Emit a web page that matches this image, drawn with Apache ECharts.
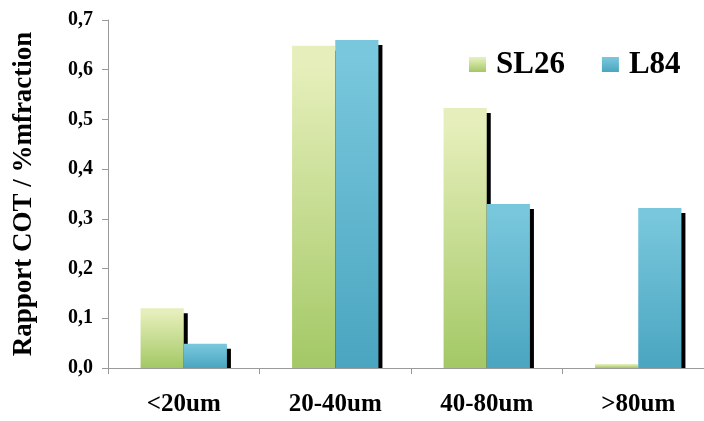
<!DOCTYPE html>
<html><head><meta charset="utf-8">
<script src="https://cdn.jsdelivr.net/npm/echarts@6/dist/echarts.min.js"></script>
<style>html,body{margin:0;padding:0;background:#fff;overflow:hidden}#c{width:716px;height:421px}</style>
</head><body><div id="c"></div>
<script>
var categories = ['<20um', '20-40um', '40-80um', '>80um'];
var sl26 = [0.12, 0.648, 0.523, 0.008];
var l84 = [0.049, 0.66, 0.33, 0.322];
var yTicks = [0, 0.1, 0.2, 0.3, 0.4, 0.5, 0.6, 0.7];

var serif = '"Liberation Serif", "DejaVu Serif", serif';
function grad(top, bottom) {
  return new echarts.graphic.LinearGradient(0, 0, 0, 1, [
    {offset: 0, color: top}, {offset: 0.06, color: top}, {offset: 1, color: bottom}
  ]);
}
var chart = echarts.init(document.getElementById('c'));
chart.setOption({
  animation: false,
  legend: {
    top: 44, left: 464, itemGap: 37, itemWidth: 17, itemHeight: 15,
    icon: 'rect',
    textStyle: {fontFamily: serif, fontWeight: 'bold', fontSize: 31, color: '#000', padding: [0, 0, 0, 5]},
    data: ['SL26', 'L84']
  },
  grid: {left: 108, right: 2, top: 20, bottom: 53},
  xAxis: {
    type: 'category', data: categories, z: 60,
    axisLine: {lineStyle: {color: '#999'}},
    axisTick: {show: true, length: 6, lineStyle: {color: '#999'}},
    axisLabel: {fontFamily: serif, fontWeight: 'bold', fontSize: 25, color: '#000', margin: 24}
  },
  yAxis: {
    type: 'value', min: yTicks[0], max: yTicks[yTicks.length - 1], interval: 0.1,
    name: 'Rapport COT / %mfraction', nameLocation: 'middle', nameGap: 70, nameRotate: 90,
    nameTextStyle: {fontFamily: serif, fontWeight: 'bold', fontSize: 27, color: '#000'},
    axisLine: {show: true, lineStyle: {color: '#999'}},
    axisTick: {show: true, length: 6, lineStyle: {color: '#999'}},
    splitLine: {show: false},
    axisLabel: {fontFamily: serif, fontWeight: 'bold', fontSize: 20, color: '#000', margin: 15,
      formatter: function (v) { return v.toFixed(1).replace('.', ','); }}
  },
  series: [
    {name: 'SL26', type: 'bar', data: sl26, barGap: '0%', barCategoryGap: '43%',
     itemStyle: {color: grad('#e6efbb', '#a3c865'), shadowColor: '#000', shadowOffsetX: 4, shadowOffsetY: 5, shadowBlur: 0}},
    {name: 'L84', type: 'bar', data: l84, barGap: '0%', barCategoryGap: '43%',
     itemStyle: {color: grad('#78c7dc', '#4aa5c0'), shadowColor: '#000', shadowOffsetX: 4, shadowOffsetY: 5, shadowBlur: 0}}
  ]
});
// white mask hiding the part of the bar shadows that falls below the axis line
var y0 = chart.convertToPixel({yAxisIndex: 0}, 0);
chart.setOption({
  graphic: [{type: 'rect', z: 50, silent: true,
    shape: {x: 109, y: y0 + 1, width: 610, height: 6},
    style: {fill: '#fff'}}]
});
</script></body></html>
